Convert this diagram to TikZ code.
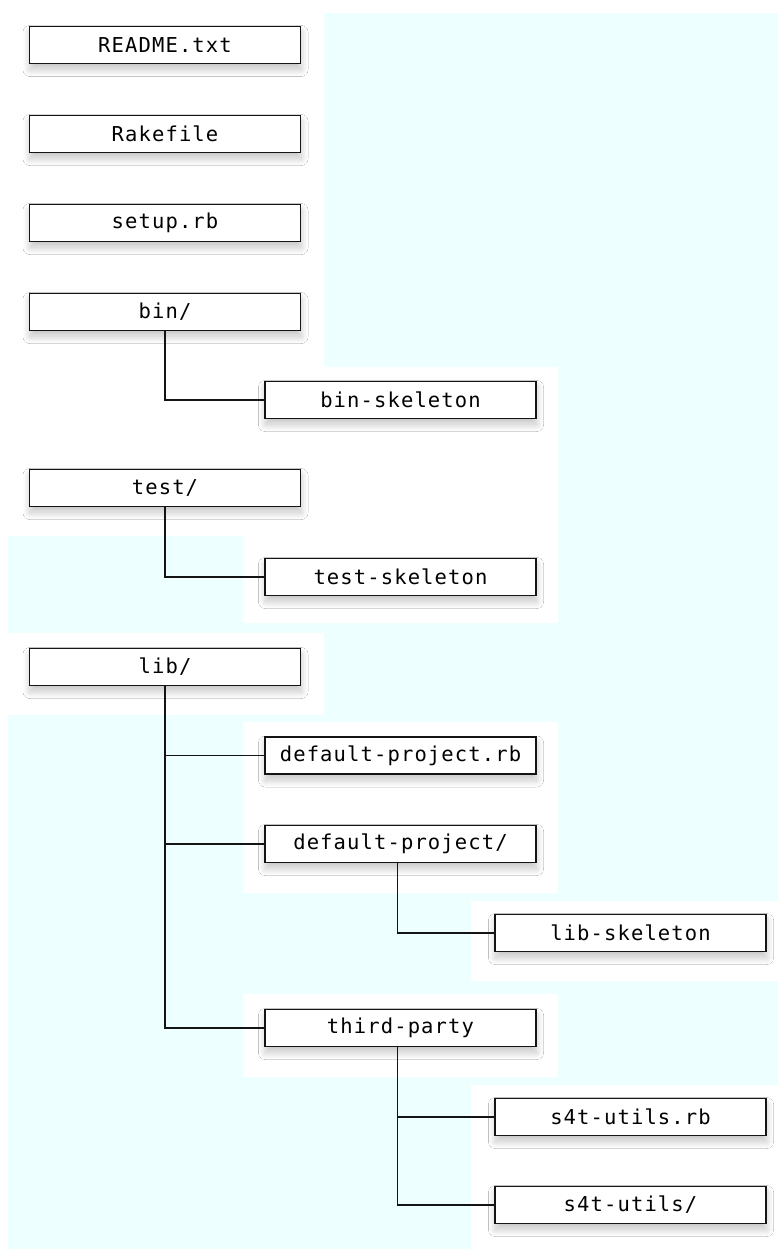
\documentclass[tikz,border=0pt]{standalone}
\usepackage{fontspec}
\newfontfamily\boxfont[LetterSpace=5.5]{DejaVu Sans Mono}
\usetikzlibrary{shadows.blur}
\definecolor{bgcyan}{RGB}{238,255,255}
\definecolor{edge}{RGB}{20,20,20}
\tikzset{
  filebox/.style={draw=edge, line width=1.5pt, fill=white, minimum width=271pt, minimum height=37pt,
    inner sep=0pt, font=\boxfont\fontsize{20.5}{20.5}\selectfont,
    blur shadow={shadow xshift=0.5pt, shadow yshift=-6pt, shadow blur radius=7pt, shadow blur steps=30, shadow opacity=24}},
  link/.style={draw=edge, line width=1.4pt},
  whitezone/.style={fill=white, draw=none}
}
\begin{document}
\begin{tikzpicture}[x=1pt, y=-1pt]
\useasboundingbox (0,0) rectangle (778,1249);
% background
\fill[white] (0,0) rectangle (778,1249);
\fill[bgcyan] (8,13) rectangle (778,1249);
\fill[whitezone] (0,0) rectangle (324,367);
\fill[whitezone] (0,367) rectangle (558,536);
\fill[whitezone] (243,536) rectangle (558,623);
\fill[whitezone] (8,633) rectangle (324,715);
\fill[whitezone] (243,722) rectangle (558,893);
\fill[whitezone] (471,901) rectangle (778,981);
\fill[whitezone] (243,994) rectangle (558,1077);
\fill[whitezone] (471,1085) rectangle (778,1249);
% nodes
\node[filebox] (readme) at (165,45) {README.txt};
\node[filebox] (rake) at (165,134) {Rakefile};
\node[filebox] (setup) at (165,223) {setup.rb};
\node[filebox] (bin) at (165,312) {bin/};
\node[filebox] (binsk) at (400.5,400) {bin-skeleton};
\node[filebox] (test) at (165,488) {test/};
\node[filebox] (testsk) at (400.5,577) {test-skeleton};
\node[filebox] (lib) at (165,667) {lib/};
\node[filebox] (dprb) at (400.5,755.5) {default-project.rb};
\node[filebox] (dp) at (400.5,844) {default-project/};
\node[filebox] (libsk) at (630.5,933) {lib-skeleton};
\node[filebox] (third) at (400.5,1028) {third-party};
\node[filebox] (s4rb) at (630.5,1117) {s4t-utils.rb};
\node[filebox] (s4) at (630.5,1205) {s4t-utils/};
% connectors
\draw[link] (bin.south) |- (binsk.west);
\draw[link] (test.south) |- (testsk.west);
\draw[link] (lib.south) |- (dprb.west);
\draw[link] (lib.south) |- (dp.west);
\draw[link] (lib.south) |- (third.west);
\draw[link] ([xshift=-3pt]dp.south) |- (libsk.west);
\draw[link] ([xshift=-3pt]third.south) |- (s4rb.west);
\draw[link] ([xshift=-3pt]third.south) |- (s4.west);
\end{tikzpicture}
\end{document}
